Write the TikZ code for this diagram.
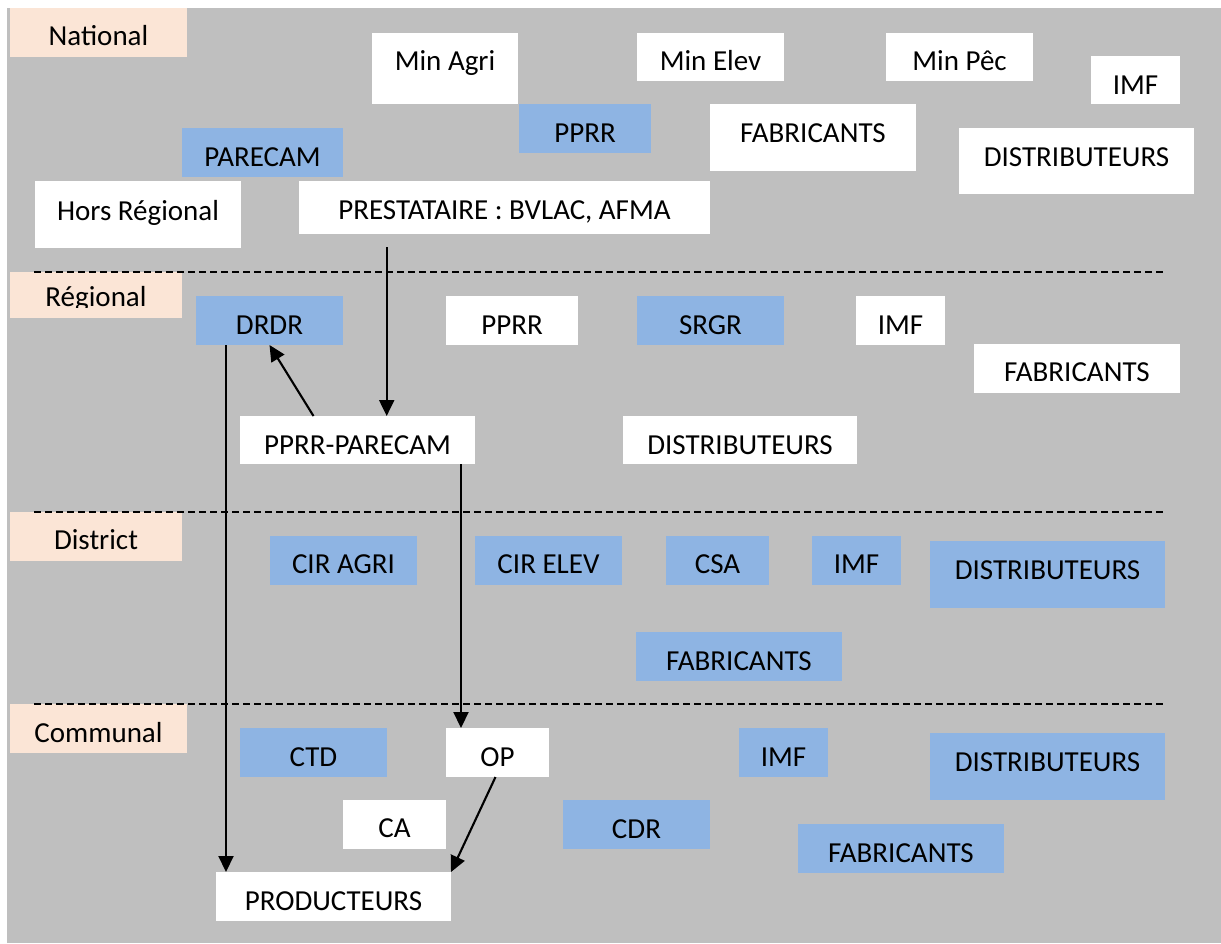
\documentclass[tikz,border=0pt]{standalone}
\usepackage{fontspec}
\setmainfont{Carlito}
\usetikzlibrary{arrows.meta}
\definecolor{bggray}{HTML}{BFBFBF}
\definecolor{boxblue}{HTML}{8EB4E3}
\definecolor{peach}{HTML}{FBE5D6}
\tikzset{
  wbox/.style={fill=white,draw=none,inner sep=0pt,outer sep=0pt},
  bbox/.style={fill=boxblue,draw=none,inner sep=0pt,outer sep=0pt},
  pbox/.style={fill=peach,draw=none,inner sep=0pt,outer sep=0pt},
  txt/.style={inner sep=0pt,outer sep=0pt,anchor=base,font=\fontsize{29}{34}\selectfont},
  sep/.style={line width=1.5pt,dash pattern=on 7pt off 4pt},
  arr/.style={line width=2.1pt,-{Triangle[width=15pt,length=16pt]}},
}
% \bx{name}{style}{x1}{y1}{x2}{y2}{text}{baseline offset}
\newcommand\bx[8]{%
  \node[#2,anchor=north west,minimum width={(#5)-(#3)},minimum height={(#6)-(#4)}] (#1) at (#3,#4) {};
  \node[txt] (#1t) at ({((#3)+(#5))/2},{(#4)+(#8)}) {#7};
}
\begin{document}
\begin{tikzpicture}[x=1pt,y=-1pt]
\useasboundingbox (0,0) rectangle (1221,943);
\fill[bggray] (7,8) rectangle (1221,943);
% level labels
\bx{lnat}{pbox}{10}{8}{187}{57}{National}{37.5}
\node[pbox,anchor=north west,minimum width=172,minimum height=46] (lreg) at (10,272) {};
\begin{scope}
  \clip (10,272) rectangle (182,307.5);
  \node[txt] (lregt) at (96,306.5) {Régional};
\end{scope}
\bx{ldis}{pbox}{10}{512}{182}{561}{District}{37.5}
\bx{lcom}{pbox}{10}{704}{187}{753}{Communal}{38}
% national
\bx{minagri}{wbox}{372}{33}{518}{104}{Min Agri}{37}
\bx{minelev}{wbox}{637}{33}{784}{81}{Min Elev}{37}
\bx{minpec}{wbox}{886}{33}{1033}{81}{Min Pêc}{37}
\bx{imfn}{wbox}{1091}{56}{1180}{104}{IMF}{38}
\bx{pprrn}{bbox}{519}{104}{651}{153}{PPRR}{38}
\bx{fabn}{wbox}{710}{104}{916}{171}{FABRICANTS}{38}
\bx{parecam}{bbox}{182}{128}{343}{177}{PARECAM}{38}
\bx{distn}{wbox}{959}{128}{1194}{194}{DISTRIBUTEURS}{38.5}
\bx{hors}{wbox}{35}{181}{241}{248}{Hors Régional}{39}
\bx{presta}{wbox}{299}{181}{710}{234}{PRESTATAIRE : BVLAC, AFMA}{38}
% regional
\bx{drdr}{bbox}{196}{296}{343}{345}{DRDR}{38}
\bx{pprrr}{wbox}{446}{296}{578}{345}{PPRR}{38}
\bx{srgr}{bbox}{637}{296}{784}{345}{SRGR}{38}
\bx{imfr}{wbox}{856}{296}{945}{345}{IMF}{38}
\bx{fabr}{wbox}{974}{344}{1180}{393}{FABRICANTS}{37}
\bx{ppcam}{wbox}{240}{416}{475}{464}{PPRR-PARECAM}{38}
\bx{distr}{wbox}{623}{416}{857}{464}{DISTRIBUTEURS}{38}
% district
\bx{ciragri}{bbox}{270}{536}{417}{585}{CIR AGRI}{37.5}
\bx{cirelev}{bbox}{475}{536}{622}{585}{CIR ELEV}{37.5}
\bx{csa}{bbox}{666}{536}{769}{585}{CSA}{37.5}
\bx{imfd}{bbox}{812}{536}{901}{585}{IMF}{37.5}
\bx{distd}{bbox}{930}{541}{1165}{608}{DISTRIBUTEURS}{38}
\bx{fabd}{bbox}{636}{632}{842}{681}{FABRICANTS}{38}
% communal
\bx{ctd}{bbox}{240}{728}{387}{777}{CTD}{38}
\bx{op}{wbox}{446}{728}{549}{777}{OP}{38}
\bx{imfc}{bbox}{739}{728}{828}{777}{IMF}{38}
\bx{distc}{bbox}{930}{733}{1165}{800}{DISTRIBUTEURS}{38}
\bx{ca}{wbox}{343}{800}{446}{849}{CA}{37.5}
\bx{cdr}{bbox}{563}{800}{710}{849}{CDR}{38}
\bx{fabc}{bbox}{798}{824}{1004}{873}{FABRICANTS}{38}
\bx{prod}{wbox}{216}{872}{451}{921}{PRODUCTEURS}{38}
% separators
\draw[sep] (34,271.8) -- (1163,271.8);
\draw[sep] (34,511.8) -- (1163,511.8);
\draw[sep] (34,703.8) -- (1163,703.8);
% connectors
\coordinate (a1s) at (386.7,247);
\draw[arr] (a1s) -- (a1s |- ppcam.north);
\draw[arr] ([xshift=-44pt]ppcam.north) -- (drdr.south);
\coordinate (a3s) at ([xshift=-43.5pt]drdr.south);
\draw[arr] (a3s) -- (a3s |- prod.north);
\coordinate (a4s) at ([xshift=103.5pt]ppcam.south);
\draw[arr] (a4s) -- (a4s |- op.north);
\draw[arr] ([xshift=-2pt]op.south) -- (prod.north east);
\end{tikzpicture}
\end{document}
